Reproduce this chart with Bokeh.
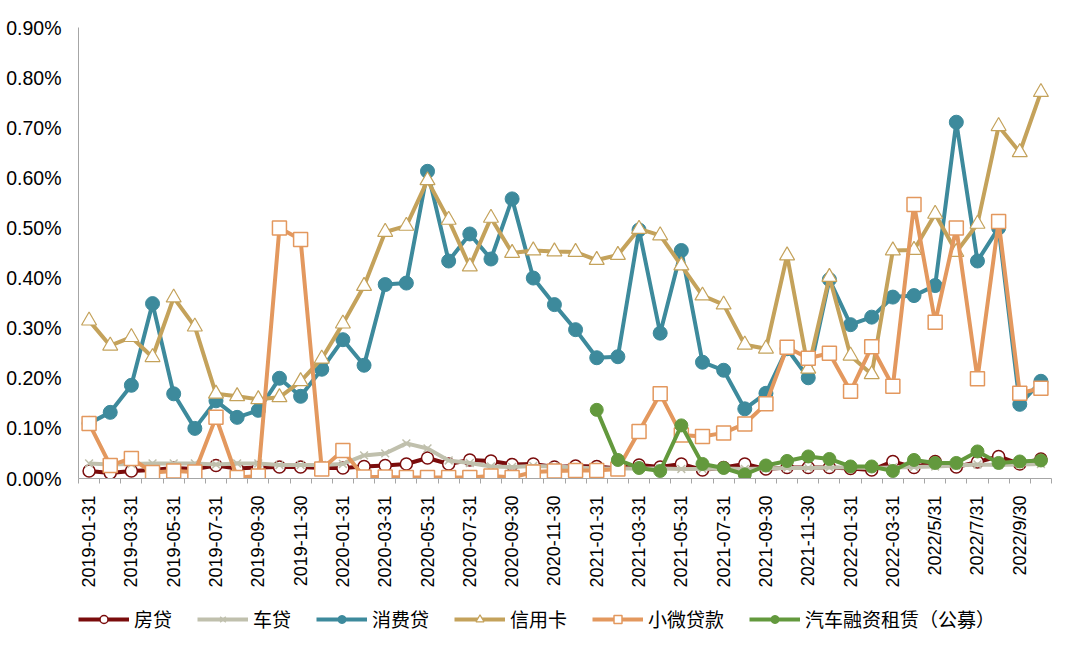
import math
from bokeh.plotting import figure
from bokeh.layouts import column
from bokeh.models import FixedTicker, Range1d, Legend, LegendItem, PrintfTickFormatter
from bokeh.embed import file_html
from bokeh.resources import INLINE

nan = float("nan")

months = [f"{y}-{m:02d}" for y in range(2019, 2023) for m in range(1, 13)][:46]

tick_labels = [
    "2019-01-31", "2019-03-31", "2019-05-31", "2019-07-31", "2019-09-30", "2019-11-30",
    "2020-01-31", "2020-03-31", "2020-05-31", "2020-07-31", "2020-09-30", "2020-11-30",
    "2021-01-31", "2021-03-31", "2021-05-31", "2021-07-31", "2021-09-30", "2021-11-30",
    "2022-01-31", "2022-03-31", "2022/5/31", "2022/7/31", "2022/9/30",
]

mortgage = [0.015, 0.011, 0.015, 0.017, 0.021, 0.019, 0.026, 0.020, 0.022, 0.023, 0.023, 0.021,
            0.021, 0.024, 0.026, 0.029, 0.041, 0.029, 0.037, 0.035, 0.028, 0.029, 0.023, 0.025,
            0.024, 0.020, 0.027, 0.023, 0.029, 0.017, 0.022, 0.029, 0.019, 0.022, 0.022, 0.022,
            0.020, 0.017, 0.034, 0.022, 0.034, 0.023, 0.033, 0.044, 0.029, 0.039]

car = [0.030, 0.028, 0.029, 0.030, 0.030, 0.030, 0.028, 0.030, 0.030, 0.027, 0.027, 0.027,
       0.029, 0.046, 0.050, 0.070, 0.060, 0.036, 0.031, 0.024, 0.023, 0.025, 0.024, 0.022,
       0.020, 0.020, 0.020, 0.020, 0.019, 0.019, 0.020, 0.019, 0.020, 0.021, 0.021, 0.022,
       0.022, 0.021, 0.022, 0.023, 0.024, 0.026, 0.028, 0.027, 0.028, 0.029]

consumer = [0.110, 0.132, 0.186, 0.349, 0.169, 0.100, 0.155, 0.122, 0.136, 0.200, 0.164, 0.218,
            0.277, 0.226, 0.387, 0.390, 0.613, 0.434, 0.488, 0.438, 0.558, 0.400, 0.347, 0.297,
            0.241, 0.243, 0.496, 0.290, 0.455, 0.232, 0.216, 0.139, 0.170, 0.259, 0.201, 0.397,
            0.307, 0.322, 0.362, 0.365, 0.385, 0.711, 0.434, 0.500, 0.148, 0.194]

credit_card = [0.315, 0.265, 0.282, 0.242, 0.361, 0.303, 0.169, 0.164, 0.158, 0.162, 0.194, 0.239,
               0.309, 0.384, 0.492, 0.504, 0.595, 0.516, 0.423, 0.520, 0.450, 0.455, 0.453, 0.452,
               0.436, 0.446, 0.498, 0.485, 0.425, 0.365, 0.347, 0.267, 0.259, 0.445, 0.219, 0.402,
               0.245, 0.208, 0.455, 0.456, 0.528, 0.452, 0.508, 0.703, 0.651, 0.771]

micro = [0.110, 0.026, 0.040, 0.012, 0.015, 0.013, 0.122, 0.002, 0.005, 0.500, 0.477, 0.019,
         0.056, 0.003, 0.003, 0.002, 0.002, 0.002, 0.002, 0.005, 0.002, 0.013, 0.015, 0.016,
         0.016, 0.019, 0.094, 0.169, 0.087, 0.084, 0.091, 0.109, 0.149, 0.262, 0.240, 0.250,
         0.174, 0.263, 0.184, 0.547, 0.312, 0.500, 0.199, 0.513, 0.170, 0.180]

auto_lease = [nan] * 24 + [0.137, 0.037, 0.021, 0.015, 0.106, 0.029, 0.021, 0.008, 0.026, 0.035,
                           0.044, 0.039, 0.024, 0.024, 0.015, 0.037, 0.031, 0.031, 0.054, 0.031,
                           0.034, 0.036]

names = ["房贷", "车贷", "消费贷", "信用卡", "小微贷款", "汽车融资租赁（公募）"]

x = list(range(len(months)))

p = figure(width=1080, height=600, output_backend="svg", toolbar_location=None,
           x_range=Range1d(-0.5, len(months) - 0.5), y_range=Range1d(0, 0.9),
           min_border_left=78, min_border_right=29, min_border_top=27, min_border_bottom=122)
p.outline_line_color = None
p.xgrid.visible = False
p.ygrid.visible = False
p.background_fill_color = "white"
p.border_fill_color = "white"

axis_gray = "#a6a6a6"
font = "Liberation Sans"

xa = p.xaxis[0]
xa.ticker = FixedTicker(ticks=list(range(0, len(months), 2)),
                        minor_ticks=[i - 0.5 for i in range(len(months) + 1)])
xa.major_label_overrides = {i * 2: lab for i, lab in enumerate(tick_labels)}
xa.major_label_orientation = math.pi / 2
xa.major_tick_line_color = None
xa.major_tick_out = 0
xa.major_tick_in = 0
xa.minor_tick_line_color = axis_gray
xa.minor_tick_out = 5
xa.minor_tick_in = 0
xa.axis_line_color = axis_gray
xa.major_label_text_font = font
xa.major_label_text_font_size = "18px"
xa.major_label_text_color = "black"
xa.major_label_standoff = 12

ya = p.yaxis[0]
ya.ticker = FixedTicker(ticks=[i / 10 for i in range(10)])
ya.formatter = PrintfTickFormatter(format="%.2f%%")
ya.major_tick_line_color = None
ya.minor_tick_line_color = None
ya.major_tick_out = 0
ya.axis_line_color = axis_gray
ya.major_label_text_font = font
ya.major_label_text_font_size = "19.5px"
ya.major_label_text_color = "black"
ya.major_label_standoff = 17

styles = [
    dict(data=mortgage, color="#7a0c0c", marker="circle", size=12, fill="white", lw=1.5),
    dict(data=car, color="#c0c0ad", marker="x", size=11, fill="#c0c0ad", lw=1.5),
    dict(data=consumer, color="#3d8a9c", marker="circle", size=14, fill="#3d8a9c", lw=1),
    dict(data=credit_card, color="#c4a25b", marker="triangle", size=15, fill="white", lw=1.2),
    dict(data=micro, color="#e3985e", marker="square", size=14, fill="white", lw=1.5),
    dict(data=auto_lease, color="#63993d", marker="circle", size=13, fill="#63993d", lw=1),
]

# legend strip below the chart
q = figure(width=1080, height=56, output_backend="svg", toolbar_location=None,
           x_axis_type=None, y_axis_type=None,
           min_border_left=0, min_border_right=0, min_border_top=0, min_border_bottom=0,
           x_range=Range1d(0, 1), y_range=Range1d(0, 1))
q.outline_line_color = None
q.xgrid.visible = False
q.ygrid.visible = False
q.border_fill_color = "white"

items = []
for name, st in zip(names, styles):
    p.line(x, st["data"], line_color=st["color"], line_width=4)
    p.scatter(x, st["data"], marker=st["marker"], size=st["size"],
              line_color=st["color"], fill_color=st["fill"], line_width=st["lw"])
    # off-screen proxies so the legend can draw each series' line and marker
    ln = q.line([-5, -4], [-5, -4], line_color=st["color"], line_width=4)
    sc = q.scatter([-5], [-5], marker=st["marker"], size=st["size"],
                   line_color=st["color"], fill_color=st["fill"], line_width=st["lw"])
    items.append(LegendItem(label=name, renderers=[ln, sc]))

legend = Legend(items=items, orientation="horizontal", location=(0, 24),
                glyph_width=51, glyph_height=20, label_standoff=5, spacing=25,
                padding=0, margin=0, border_line_color=None, background_fill_alpha=0,
                label_text_font="Noto Sans CJK SC", label_text_font_size="19px",
                label_text_color="black")
q.add_layout(legend, "center")

open("out.html", "w").write(file_html(column(p, q, spacing=0), INLINE))
